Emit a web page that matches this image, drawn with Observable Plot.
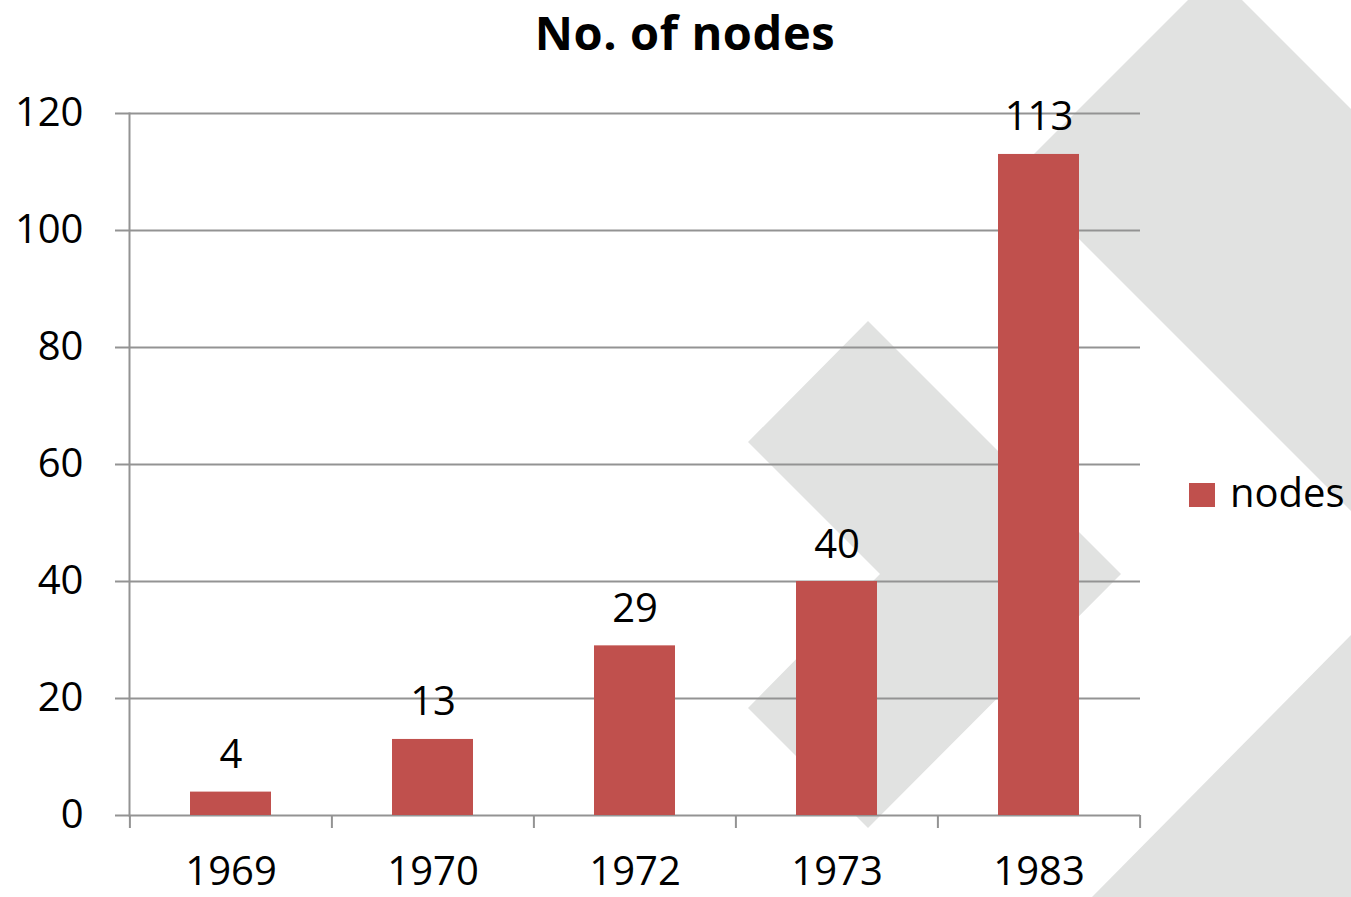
<!DOCTYPE html>
<html>
<head>
<meta charset="utf-8">
<script src="https://cdn.jsdelivr.net/npm/d3@7"></script>
<script src="https://cdn.jsdelivr.net/npm/@observablehq/plot@0.6"></script>
<style>
  html, body { margin: 0; padding: 0; background: #ffffff; }
  #wrap { position: relative; width: 1351px; height: 897px; overflow: hidden; font-family: "Open Sans", sans-serif; color: #000; }
  #bg { position: absolute; left: 0; top: 0; }
  #chart { position: absolute; left: 0; top: 0; }
  #title { position: absolute; left: 0; top: 0; width: 1370px; text-align: center; font-weight: 700; font-size: 47px; letter-spacing: 0.6px; line-height: normal; margin: 0; }
  #legend-swatch { position: absolute; left: 1189px; top: 483px; width: 26px; height: 24px; }
  #legend-text { position: absolute; left: 1230px; top: 472px; font-size: 40px; line-height: 1; }
</style>
</head>
<body>
<div id="wrap">
  <svg id="bg" width="1351" height="897">
    <polygon points="1188,0 1242,0 1351,109 1351,511 1014,174" fill="#e1e2e1"/>
    <polygon points="868,321 1121,574 868,828 748,708 880,574 748,442" fill="#e1e2e1"/>
    <polygon points="1351,635 1351,897 1092,897" fill="#e1e2e1"/>
  </svg>
  <div id="chart"></div>
  <div id="title">No. of nodes</div>
  <div id="legend-swatch"></div>
  <div id="legend-text"></div>
</div>
<script>
const years = ["1969", "1970", "1972", "1973", "1983"];
const nodes = [4, 13, 29, 40, 113];
const yTicks = [0, 20, 40, 60, 80, 100, 120];
const seriesName = "nodes";
const barColor = "#C0504D";
const gridColor = "#939393";

const data = years.map((year, i) => ({year, nodes: nodes[i]}));

const W = 1351, H = 897, mL = 129, mR = 211, mT = 113, mB = 82;
const step = (W - mL - mR) / years.length;

const chart = Plot.plot({
  width: W,
  height: H,
  marginLeft: mL,
  marginRight: mR,
  marginTop: mT,
  marginBottom: mB,
  style: {background: "transparent", fontFamily: "Open Sans, sans-serif", fontSize: "40px", color: "#000", overflow: "visible"},
  x: {domain: years, paddingInner: 0.6, paddingOuter: 0.3, axis: null},
  y: {domain: [0, 120], axis: null},
  marks: [
    Plot.ruleY(yTicks, {stroke: gridColor, strokeWidth: 2}),
    Plot.frame({anchor: "left", stroke: gridColor, strokeWidth: 2}),
    Plot.axisY({ticks: yTicks, tickSize: 14, tickPadding: 32, stroke: gridColor, strokeWidth: 2, strokeOpacity: 1, fontSize: 40, fill: "#000", label: null}),
    Plot.axisX({tickSize: 13, tickPadding: 0, tickFormat: () => "", dx: -step / 2, stroke: gridColor, strokeWidth: 2, strokeOpacity: 1, label: null}),
    Plot.axisX({ticks: [years[years.length - 1]], tickSize: 13, tickPadding: 0, tickFormat: () => "", dx: step / 2, stroke: gridColor, strokeWidth: 2, strokeOpacity: 1, label: null}),
    Plot.axisX({tickSize: 0, tickPadding: 41, fontSize: 40, fill: "#000", label: null}),
    Plot.barY(data, {x: "year", y: "nodes", fill: barColor}),
    Plot.text(data, {x: "year", y: "nodes", text: d => String(d.nodes), lineAnchor: "bottom", dy: -24, fontSize: 40, fill: "#000"})
  ]
});
document.getElementById("chart").appendChild(chart);
document.getElementById("legend-swatch").style.background = barColor;
document.getElementById("legend-text").textContent = seriesName;
</script>
</body>
</html>
